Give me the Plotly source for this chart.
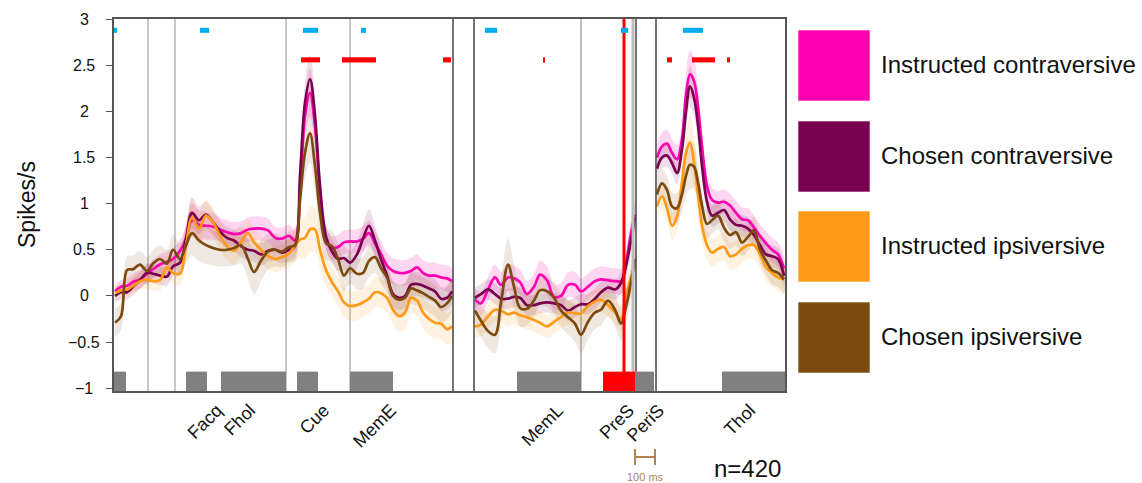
import plotly.graph_objects as go

# ---------------- data ----------------
# time axis in ms (three aligned epochs laid side by side)
t_p1 = [5, 35, 65, 95, 130, 165, 195, 230, 265, 295, 330, 360, 390, 425, 460, 495, 530, 565, 600, 635,
        670, 700, 735, 770, 805, 840, 875, 905, 930, 955, 980, 1005, 1030, 1060, 1090, 1120, 1150, 1180,
        1215, 1245, 1275, 1305, 1335, 1365, 1395, 1425, 1455, 1485, 1515, 1545, 1575, 1605, 1635, 1665, 1690]
t_p2 = [1805, 1835, 1870, 1905, 1935, 1970, 2000, 2030, 2065, 2100, 2130, 2165, 2200, 2235, 2270, 2305,
        2335, 2370, 2405, 2435, 2470, 2505, 2535, 2560, 2585, 2605]
t_p3 = [2715, 2740, 2765, 2790, 2815, 2840, 2860, 2880, 2900, 2920, 2940, 2965, 2990, 3020, 3050, 3080,
        3110, 3140, 3170, 3200, 3230, 3260, 3290, 3320, 3350]

instr_contra_p1 = [0.05, 0.10, 0.11, 0.15, 0.18, 0.24, 0.29, 0.34, 0.37, 0.40, 0.49, 0.62, 0.82, 0.77, 0.76,
                   0.75, 0.72, 0.69, 0.67, 0.68, 0.72, 0.73, 0.73, 0.71, 0.63, 0.62, 0.65, 0.60, 1.12, 1.95,
                   2.20, 1.84, 1.12, 0.62, 0.52, 0.53, 0.58, 0.59, 0.59, 0.62, 0.68, 0.57, 0.45, 0.33, 0.27,
                   0.25, 0.25, 0.27, 0.31, 0.25, 0.22, 0.22, 0.20, 0.19, 0.16]
chosen_contra_p1 = [0.0, 0.04, 0.04, 0.10, 0.17, 0.25, 0.24, 0.22, 0.21, 0.32, 0.36, 0.62, 0.90, 0.82, 0.88,
                    0.80, 0.70, 0.63, 0.60, 0.54, 0.50, 0.49, 0.45, 0.49, 0.50, 0.47, 0.50, 0.54, 1.30, 2.09,
                    2.35, 1.95, 1.19, 0.64, 0.48, 0.40, 0.41, 0.36, 0.45, 0.62, 0.76, 0.60, 0.40, 0.22, 0.02,
                    -0.02, 0.0, 0.12, 0.13, 0.11, 0.08, 0.05, -0.03, -0.02, 0.05]
instr_ipsi_p1 = [0.03, 0.06, 0.07, 0.11, 0.16, 0.18, 0.16, 0.17, 0.31, 0.25, 0.24, 0.55, 0.85, 0.73, 0.87,
                 0.80, 0.65, 0.54, 0.49, 0.58, 0.68, 0.58, 0.50, 0.43, 0.40, 0.42, 0.46, 0.55, 0.61, 0.63,
                 0.72, 0.72, 0.50, 0.28, 0.15, 0.05, -0.07, -0.11, -0.10, -0.07, -0.03, 0.04, 0.03, -0.02, -0.15,
                 -0.22, -0.18, -0.02, -0.05, -0.18, -0.25, -0.29, -0.30, -0.36, -0.33]
chosen_ipsi_p1 = [-0.29, -0.22, 0.28, 0.29, 0.34, 0.27, 0.35, 0.40, 0.35, 0.50, 0.40, 0.55, 0.68, 0.60, 0.55,
                  0.52, 0.50, 0.50, 0.52, 0.55, 0.40, 0.26, 0.38, 0.48, 0.50, 0.48, 0.53, 0.55, 1.04, 1.55,
                  1.76, 1.41, 0.90, 0.57, 0.54, 0.40, 0.22, 0.30, 0.24, 0.25, 0.38, 0.42, 0.30, 0.20, 0.0,
                  -0.04, -0.02, 0.08, 0.06, 0.03, -0.01, -0.05, -0.12, -0.08, 0.0]

instr_contra_se_p1 = [0.07, 0.07, 0.08, 0.09, 0.10, 0.10, 0.10, 0.11, 0.11, 0.12, 0.12, 0.15, 0.18, 0.16, 0.15,
                      0.14, 0.13, 0.13, 0.13, 0.13, 0.13, 0.13, 0.13, 0.13, 0.12, 0.12, 0.12, 0.12, 0.16, 0.22,
                      0.26, 0.22, 0.16, 0.13, 0.13, 0.13, 0.13, 0.13, 0.13, 0.14, 0.14, 0.14, 0.14, 0.14, 0.14,
                      0.14, 0.14, 0.14, 0.14, 0.14, 0.14, 0.14, 0.14, 0.14, 0.14]
chosen_contra_se_p1 = [0.08, 0.08, 0.08, 0.09, 0.09, 0.10, 0.10, 0.10, 0.10, 0.11, 0.11, 0.14, 0.17, 0.15, 0.14,
                       0.13, 0.12, 0.12, 0.12, 0.12, 0.12, 0.12, 0.12, 0.12, 0.12, 0.12, 0.12, 0.12, 0.16, 0.22,
                       0.26, 0.22, 0.16, 0.13, 0.13, 0.13, 0.13, 0.13, 0.14, 0.16, 0.18, 0.16, 0.14, 0.13, 0.13,
                       0.13, 0.13, 0.13, 0.13, 0.13, 0.13, 0.13, 0.13, 0.13, 0.13]
instr_ipsi_se_p1 = [0.08, 0.08, 0.08, 0.09, 0.09, 0.10, 0.10, 0.11, 0.12, 0.12, 0.13, 0.16, 0.20, 0.18, 0.17,
                    0.16, 0.15, 0.15, 0.15, 0.15, 0.15, 0.15, 0.14, 0.14, 0.14, 0.14, 0.15, 0.17, 0.20, 0.22,
                    0.25, 0.24, 0.20, 0.17, 0.16, 0.16, 0.16, 0.16, 0.16, 0.16, 0.16, 0.16, 0.16, 0.16, 0.16,
                    0.17, 0.17, 0.17, 0.17, 0.17, 0.17, 0.17, 0.17, 0.17, 0.17]
chosen_ipsi_se_p1 = [0.15, 0.15, 0.15, 0.15, 0.15, 0.15, 0.15, 0.15, 0.15, 0.16, 0.17, 0.20, 0.24, 0.22, 0.20,
                     0.19, 0.18, 0.18, 0.19, 0.20, 0.22, 0.24, 0.22, 0.20, 0.18, 0.17, 0.17, 0.18, 0.22, 0.28,
                     0.32, 0.28, 0.22, 0.18, 0.17, 0.17, 0.17, 0.17, 0.17, 0.17, 0.17, 0.17, 0.17, 0.17, 0.17,
                     0.17, 0.17, 0.17, 0.17, 0.17, 0.17, 0.17, 0.17, 0.17, 0.17]

instr_contra_p2 = [-0.04, -0.08, 0.07, 0.20, 0.12, 0.20, 0.19, 0.15, 0.02, 0.10, 0.23, 0.17, -0.01, 0.0, 0.12,
                   0.12, 0.05, 0.10, 0.16, 0.18, 0.17, 0.16, 0.16, 0.35, 0.68, 0.88]
chosen_contra_p2 = [-0.02, 0.02, 0.07, 0.02, -0.03, -0.03, -0.01, -0.02, -0.10, -0.10, -0.08, -0.07, -0.08, -0.10,
                    -0.16, -0.12, -0.09, -0.09, -0.03, 0.04, 0.09, 0.07, 0.14, 0.33, 0.60, 0.85]
instr_ipsi_p2 = [-0.33, -0.31, -0.22, -0.15, -0.16, -0.20, -0.18, -0.21, -0.23, -0.26, -0.29, -0.33, -0.28, -0.23,
                 -0.18, -0.19, -0.19, -0.11, -0.06, -0.04, -0.10, -0.18, -0.25, 0.0, 0.20, 0.32]
chosen_ipsi_p2 = [-0.16, -0.27, -0.38, -0.42, -0.07, 0.34, 0.10, -0.13, -0.14, -0.05, 0.06, 0.05, -0.02, -0.16,
                  -0.23, -0.30, -0.42, -0.28, -0.18, -0.15, -0.05, -0.15, -0.30, -0.12, 0.15, 0.40]

instr_contra_se_p2 = [0.12, 0.12, 0.13, 0.14, 0.14, 0.14, 0.14, 0.14, 0.14, 0.14, 0.15, 0.15, 0.14, 0.14, 0.14,
                      0.14, 0.14, 0.14, 0.14, 0.14, 0.14, 0.14, 0.14, 0.15, 0.16, 0.16]
chosen_contra_se_p2 = [0.11, 0.11, 0.11, 0.11, 0.11, 0.11, 0.11, 0.11, 0.11, 0.11, 0.11, 0.11, 0.11, 0.11, 0.11,
                       0.11, 0.11, 0.11, 0.11, 0.11, 0.11, 0.11, 0.12, 0.13, 0.14, 0.14]
instr_ipsi_se_p2 = [0.13, 0.13, 0.13, 0.13, 0.13, 0.13, 0.13, 0.13, 0.13, 0.13, 0.13, 0.13, 0.13, 0.13, 0.13,
                    0.13, 0.13, 0.13, 0.13, 0.13, 0.13, 0.13, 0.14, 0.15, 0.16, 0.16]
chosen_ipsi_se_p2 = [0.17, 0.18, 0.19, 0.20, 0.24, 0.28, 0.24, 0.20, 0.18, 0.17, 0.17, 0.17, 0.17, 0.18, 0.19,
                     0.20, 0.20, 0.19, 0.18, 0.17, 0.17, 0.18, 0.19, 0.18, 0.17, 0.17]

instr_contra_p3 = [1.50, 1.62, 1.65, 1.55, 1.48, 1.70, 2.18, 2.40, 2.33, 2.05, 1.62, 1.19, 1.04, 1.01, 1.02,
                   0.98, 0.90, 0.83, 0.82, 0.74, 0.65, 0.57, 0.50, 0.45, 0.30]
chosen_contra_p3 = [1.38, 1.50, 1.52, 1.44, 1.33, 1.59, 2.00, 2.27, 2.15, 1.85, 1.41, 1.02, 0.87, 0.90, 0.93,
                    0.83, 0.77, 0.76, 0.73, 0.66, 0.55, 0.45, 0.43, 0.40, 0.22]
instr_ipsi_p3 = [0.97, 1.08, 0.95, 0.76, 0.86, 1.23, 1.55, 1.66, 1.45, 1.10, 0.76, 0.55, 0.47, 0.51, 0.53,
                 0.43, 0.45, 0.51, 0.55, 0.55, 0.45, 0.31, 0.25, 0.20, 0.18]
chosen_ipsi_p3 = [1.10, 1.22, 1.15, 0.97, 0.95, 1.10, 1.30, 1.42, 1.40, 1.23, 0.98, 0.78, 0.82, 0.87, 0.74,
                  0.66, 0.69, 0.58, 0.64, 0.71, 0.50, 0.38, 0.28, 0.25, 0.18]

instr_contra_se_p3 = [0.14, 0.15, 0.15, 0.15, 0.15, 0.17, 0.22, 0.26, 0.24, 0.20, 0.16, 0.14, 0.13, 0.13, 0.13,
                      0.13, 0.13, 0.13, 0.13, 0.13, 0.13, 0.13, 0.13, 0.13, 0.13]
chosen_contra_se_p3 = [0.12, 0.12, 0.12, 0.12, 0.12, 0.14, 0.18, 0.22, 0.20, 0.17, 0.14, 0.12, 0.12, 0.12, 0.12,
                       0.12, 0.12, 0.12, 0.12, 0.12, 0.12, 0.12, 0.12, 0.12, 0.12]
instr_ipsi_se_p3 = [0.15, 0.15, 0.15, 0.15, 0.16, 0.20, 0.26, 0.30, 0.28, 0.22, 0.18, 0.16, 0.15, 0.15, 0.15,
                    0.15, 0.15, 0.15, 0.15, 0.15, 0.15, 0.15, 0.15, 0.15, 0.15]
chosen_ipsi_se_p3 = [0.15, 0.15, 0.15, 0.15, 0.16, 0.18, 0.22, 0.26, 0.24, 0.20, 0.17, 0.16, 0.15, 0.15, 0.15,
                     0.15, 0.15, 0.15, 0.15, 0.15, 0.15, 0.15, 0.15, 0.15, 0.15]

series_names = ["Instructed contraversive", "Chosen contraversive", "Instructed ipsiversive", "Chosen ipsiversive"]

# epoch labels (tick positions, ms)
epoch_ticks = [515, 680, 1050, 1385, 2220, 2575, 2725, 3180]
epoch_labels = ["Facq", "Fhol", "Cue", "MemE", "MemL", "PreS", "PeriS", "Thol"]

# epoch windows (grey bars), and the pre-saccade window (red)
epoch_win_start = [0, 360, 535, 915, 1180, 2015, 2605, 3040]
epoch_win_end = [60, 465, 860, 1020, 1395, 2335, 2700, 3355]
pres_win = (2445, 2605)

# significance windows
sig_blue_start = [0, 430, 945, 1235, 1855, 2535, 2845]
sig_blue_end = [15, 475, 1020, 1260, 1915, 2570, 2945]
sig_red_start = [935, 1140, 1645, 2145, 2765, 2890, 3065]
sig_red_end = [1030, 1310, 1685, 2155, 2790, 3005, 3080]

# event markers
event_light = [170, 305, 860, 1180]
event_thin = [2335]
event_dark = [1695, 1800, 2610, 2710]
event_red = [2550]
event_grey_thick = [2595]

# y ticks
y_ticks = [-1, -0.5, 0, 0.5, 1, 1.5, 2, 2.5, 3]
y_tick_text = ["\u22121", "\u22120.5", "0", "0.5", "1", "1.5", "2", "2.5", "3"]

n_units = 420

# ---------------- figure ----------------
W, H = 1142, 483
L, R, T, B = 114, 357, 19, 92
PW, PH = W - L - R, H - T - B


def pxx(px):
    return (px - L) / PW


def pxy(py):
    return (H - B - py) / PH


colors = ["#FF00B0", "#7A0050", "#FF9A16", "#7B4A0E"]
fills = ["rgba(255,0,176,0.16)", "rgba(122,0,80,0.13)", "rgba(255,154,22,0.13)", "rgba(123,74,14,0.13)"]

panels = [
    (t_p1, [instr_contra_p1, chosen_contra_p1, instr_ipsi_p1, chosen_ipsi_p1],
     [instr_contra_se_p1, chosen_contra_se_p1, instr_ipsi_se_p1, chosen_ipsi_se_p1]),
    (t_p2, [instr_contra_p2, chosen_contra_p2, instr_ipsi_p2, chosen_ipsi_p2],
     [instr_contra_se_p2, chosen_contra_se_p2, instr_ipsi_se_p2, chosen_ipsi_se_p2]),
    (t_p3, [instr_contra_p3, chosen_contra_p3, instr_ipsi_p3, chosen_ipsi_p3],
     [instr_contra_se_p3, chosen_contra_se_p3, instr_ipsi_se_p3, chosen_ipsi_se_p3]),
]

fig = go.Figure()

for t, ys, ses in panels:
    for i in range(4):
        up = [a + b for a, b in zip(ys[i], ses[i])]
        lo = [a - b for a, b in zip(ys[i], ses[i])]
        fig.add_trace(go.Scatter(x=t + t[::-1], y=up + lo[::-1], fill="toself", fillcolor=fills[i],
                                 line=dict(width=0, shape="spline"), mode="lines",
                                 hoverinfo="skip", showlegend=False))
for t, ys, ses in panels:
    for i in range(4):
        fig.add_trace(go.Scatter(x=t, y=ys[i], mode="lines", name=series_names[i],
                                 line=dict(color=colors[i], width=2.7, shape="spline", smoothing=1.0),
                                 showlegend=False))

shapes = []
for x in event_light:
    shapes.append(dict(type="line", xref="x", yref="paper", x0=x, x1=x, y0=0, y1=1,
                       line=dict(color="#B4B4B4", width=1.5), layer="below"))
for x in event_thin:
    shapes.append(dict(type="line", xref="x", yref="paper", x0=x, x1=x, y0=0, y1=1,
                       line=dict(color="#808080", width=1), layer="below"))
for x in event_grey_thick:
    shapes.append(dict(type="line", xref="x", yref="paper", x0=x, x1=x, y0=0, y1=1,
                       line=dict(color="#BDBDBD", width=3), layer="above"))
for x in event_dark:
    shapes.append(dict(type="line", xref="x", yref="paper", x0=x, x1=x, y0=0, y1=1,
                       line=dict(color="#444444", width=1.5), layer="above"))
for s, e in zip(epoch_win_start, epoch_win_end):
    shapes.append(dict(type="rect", xref="x", yref="y", x0=s, x1=e, y0=-1.03, y1=-0.82,
                       fillcolor="#808080", line=dict(width=0), layer="above"))
shapes.append(dict(type="rect", xref="x", yref="y", x0=pres_win[0], x1=pres_win[1], y0=-1.03, y1=-0.82,
                   fillcolor="#FF0000", line=dict(width=0), layer="above"))
for x in event_red:
    shapes.append(dict(type="line", xref="x", yref="paper", x0=x, x1=x, y0=0, y1=1,
                       line=dict(color="#FF0000", width=3), layer="above"))
for s, e in zip(sig_blue_start, sig_blue_end):
    shapes.append(dict(type="rect", xref="x", yref="y", x0=s, x1=e, y0=2.85, y1=2.905,
                       fillcolor="#00AEEF", line=dict(width=0), layer="above"))
for s, e in zip(sig_red_start, sig_red_end):
    shapes.append(dict(type="rect", xref="x", yref="y", x0=s, x1=e, y0=2.53, y1=2.585,
                       fillcolor="#FF0000", line=dict(width=0), layer="above"))

annotations = []
# y tick labels, centred like the original
for v, s in zip(y_ticks, y_tick_text):
    annotations.append(dict(xref="paper", yref="y", x=pxx(84), y=v, text=s, showarrow=False,
                            xanchor="center", yanchor="middle", font=dict(size=16, color="#111111")))

# custom legend squares
leg_tops = [30, 121, 211, 302]
for i, top in enumerate(leg_tops):
    shapes.append(dict(type="rect", xref="paper", yref="paper", x0=pxx(798), x1=pxx(870),
                       y0=pxy(top + 71), y1=pxy(top), fillcolor=colors[i],
                       line=dict(color="rgba(255,255,255,0.6)", width=1)))
    annotations.append(dict(xref="paper", yref="paper", x=pxx(879), y=pxy(top + 34), text=series_names[i],
                            showarrow=False, xanchor="left", yanchor="middle",
                            font=dict(size=24, color="#111111")))

# scale bar (100 ms)
sb_col = "#B5834F"
shapes.append(dict(type="line", xref="x", yref="paper", x0=2605, x1=2705, y0=pxy(457), y1=pxy(457),
                   line=dict(color=sb_col, width=2)))
shapes.append(dict(type="line", xref="x", yref="paper", x0=2605, x1=2605, y0=pxy(449), y1=pxy(465),
                   line=dict(color=sb_col, width=2)))
shapes.append(dict(type="line", xref="x", yref="paper", x0=2705, x1=2705, y0=pxy(449), y1=pxy(465),
                   line=dict(color=sb_col, width=2)))
annotations.append(dict(xref="x", yref="paper", x=2655, y=pxy(477), text="100 ms", showarrow=False,
                        font=dict(size=11, color=sb_col), xanchor="center", yanchor="middle"))
annotations.append(dict(xref="paper", yref="paper", x=pxx(747), y=pxy(468), text=f"n={n_units}",
                        showarrow=False, font=dict(size=24, color="#111111"),
                        xanchor="center", yanchor="middle"))
annotations.append(dict(xref="paper", yref="paper", x=pxx(27), y=pxy(205), text="Spikes/s",
                        showarrow=False, textangle=-90, font=dict(size=23, color="#111111"),
                        xanchor="center", yanchor="middle"))

fig.update_layout(
    width=W, height=H,
    margin=dict(l=L, r=R, t=T, b=B, pad=0),
    paper_bgcolor="white", plot_bgcolor="white",
    font=dict(family="Liberation Sans, Arial, sans-serif", color="#111111"),
    shapes=shapes, annotations=annotations, showlegend=False,
    xaxis=dict(range=[0, 3355], showgrid=False, zeroline=False, showline=True, mirror=True,
               linecolor="#555555", linewidth=1.5, tickmode="array", tickvals=epoch_ticks,
               ticktext=epoch_labels, tickangle=-45, ticks="", tickfont=dict(size=18, color="#111111")),
    yaxis=dict(range=[-1.03, 3.0], showgrid=False, zeroline=False, showline=True, mirror=True,
               linecolor="#555555", linewidth=1.5, tickmode="array", tickvals=y_ticks,
               showticklabels=False, ticks="outside", ticklen=6, tickcolor="#555555"),
)

fig.write_html("out.html")
